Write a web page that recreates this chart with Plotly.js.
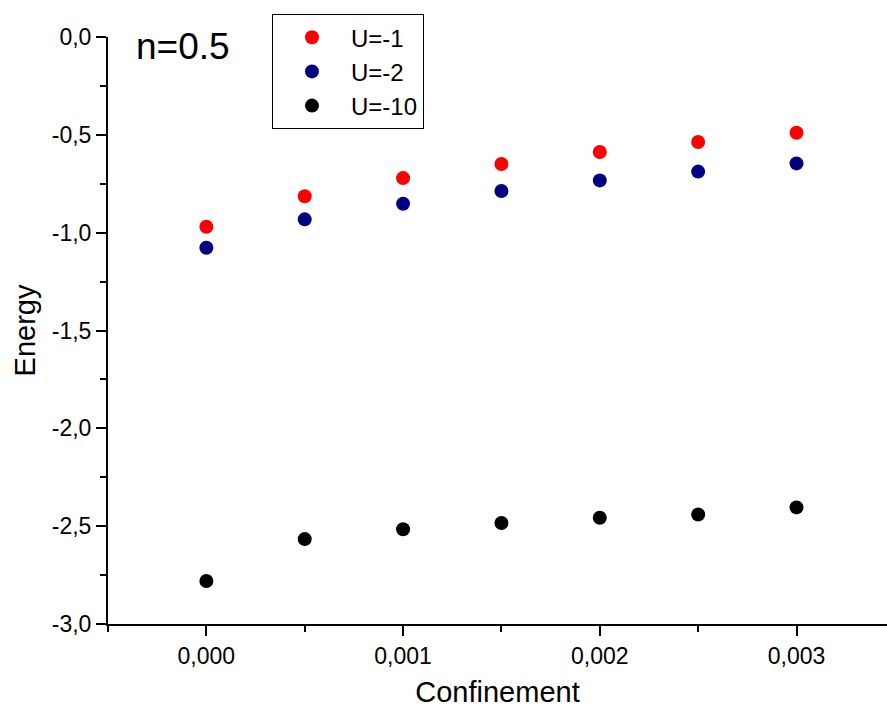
<!DOCTYPE html>
<html>
<head>
<meta charset="utf-8">
<script src="https://cdn.plot.ly/plotly-3.0.1.min.js"></script>
<style>html,body{margin:0;padding:0;background:#fff;}#chart{width:887px;height:708px;}</style>
</head>
<body>
<div id="chart"></div>
<script>
var confinement = [0, 0.0005, 0.001, 0.0015, 0.002, 0.0025, 0.003];
var energyU1 = [-0.970, -0.814, -0.721, -0.649, -0.588, -0.537, -0.489];
var energyU2 = [-1.077, -0.932, -0.852, -0.787, -0.733, -0.688, -0.646];
var energyU10 = [-2.780, -2.566, -2.516, -2.484, -2.457, -2.440, -2.404];
var seriesNames = ['U=-1', 'U=-2', 'U=-10'];
var seriesColors = ['#ff0000', '#000080', '#000000'];
var xTickVals = [0, 0.001, 0.002, 0.003];
var xTickText = ['0,000', '0,001', '0,002', '0,003'];
var yTickVals = [0, -0.5, -1, -1.5, -2, -2.5, -3];
var yTickText = ['0,0', '-0,5', '-1,0', '-1,5', '-2,0', '-2,5', '-3,0'];

var font = 'Liberation Sans, Arial, sans-serif';
var allY = [energyU1, energyU2, energyU10];
var traces = allY.map(function (ys, i) {
  return {
    x: confinement, y: ys, name: seriesNames[i], type: 'scatter', mode: 'markers',
    marker: {color: seriesColors[i], size: 14, line: {width: 0}}
  };
});

var layout = {
  width: 887, height: 708,
  margin: {l: 108, r: 0, t: 37, b: 84},
  paper_bgcolor: '#fff', plot_bgcolor: '#fff',
  showlegend: true,
  font: {family: font, color: '#000'},
  xaxis: {
    range: [-0.0005, 0.00346],
    tickvals: xTickVals, ticktext: xTickText,
    ticks: 'outside', ticklen: 10, tickwidth: 2, tickcolor: '#000',
    minor: {dtick: 0.0005, ticks: 'outside', ticklen: 6, tickwidth: 2, tickcolor: '#000'},
    showline: true, linecolor: '#000', linewidth: 2,
    showgrid: false, zeroline: false,
    tickfont: {size: 23, family: font},
    title: {text: 'Confinement', font: {size: 29, family: font}, standoff: 16}
  },
  yaxis: {
    range: [-3, 0],
    tickvals: yTickVals, ticktext: yTickText,
    ticks: 'outside', ticklen: 10, tickwidth: 2, tickcolor: '#000',
    minor: {dtick: 0.25, ticks: 'outside', ticklen: 6, tickwidth: 2, tickcolor: '#000'},
    showline: true, linecolor: '#000', linewidth: 2,
    showgrid: false, zeroline: false,
    tickfont: {size: 23, family: font},
    title: {text: 'Energy', font: {size: 29, family: font}, standoff: 8}
  },
  legend: {
    x: 0.2105, y: 1.039, xanchor: 'left', yanchor: 'top',
    bgcolor: '#fff', bordercolor: '#000', borderwidth: 1,
    font: {size: 24, family: font},
    itemwidth: 68
  },
  annotations: [{
    xref: 'paper', yref: 'paper', x: 0.034, y: 0.983, xanchor: 'left', yanchor: 'middle',
    text: 'n=0.5', showarrow: false, font: {size: 37, family: font}
  }]
};

Plotly.newPlot('chart', traces, layout, {displayModeBar: false, staticPlot: true});
</script>
</body>
</html>
